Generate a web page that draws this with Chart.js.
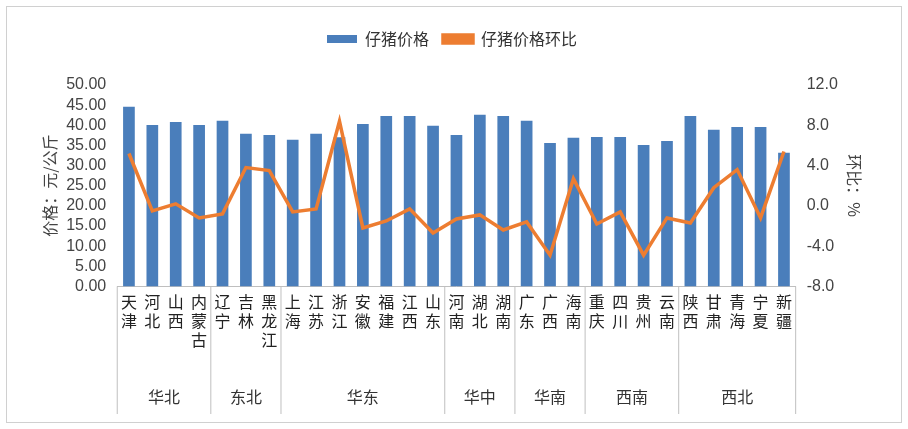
<!DOCTYPE html>
<html>
<head>
<meta charset="utf-8">
<script src="https://cdn.jsdelivr.net/npm/chart.js@4"></script>
<style>
  body { margin: 0; background: #fff; }
  #wrap { position: absolute; left: 6px; top: 6px; width: 894px; height: 415px; border: 1px solid #d0d0d0; }
</style>
</head>
<body>
<div id="wrap"><canvas id="c"></canvas></div>
<script>
const provinces = ["天津","河北","山西","内蒙古","辽宁","吉林","黑龙江","上海","江苏","浙江","安徽","福建","江西","山东","河南","湖北","湖南","广东","广西","海南","重庆","四川","贵州","云南","陕西","甘肃","青海","宁夏","新疆"];
const price = [44.6,40.1,40.8,40.1,41.1,37.9,37.6,36.4,37.9,37.0,40.3,42.3,42.3,39.9,37.6,42.6,42.3,41.1,35.6,36.9,37.1,37.1,35.1,36.1,42.3,38.9,39.6,39.6,33.2];
const change = [5.2,-0.5,0.2,-1.2,-0.8,3.8,3.5,-0.6,-0.3,8.4,-2.2,-1.5,-0.3,-2.7,-1.3,-0.9,-2.4,-1.6,-4.9,2.7,-1.8,-0.6,-4.9,-1.2,-1.7,1.8,3.6,-1.2,5.4];
const regions = ["华北","东北","华东","华中","华南","西南","西北"];
const regionSizes = [4,3,7,3,3,4,5];

// push the plot area down below the legend
const legendGap = {
  id: "legendGap",
  beforeInit(chart) {
    const fit = chart.legend.fit;
    chart.legend.fit = function () { fit.call(this); this.height += 28; };
  }
};

const groupPlugin = {
  id: "groups",
  afterDraw(chart) {
    const ctx = chart.ctx, x = chart.scales.x;
    const top = chart.chartArea.bottom, bottom = chart.height - 8;
    const half = (x.getPixelForValue(1) - x.getPixelForValue(0)) / 2;
    ctx.save();
    ctx.strokeStyle = "#bfbfbf";
    ctx.lineWidth = 1;
    ctx.fillStyle = "#333";
    ctx.font = "16px 'Noto Sans CJK SC'";
    ctx.textAlign = "center";
    ctx.textBaseline = "middle";
    let start = 0;
    const edge = (i) => x.getPixelForValue(i) - half;
    ctx.beginPath();
    ctx.moveTo(edge(0), top); ctx.lineTo(edge(0), bottom);
    regions.forEach((r, k) => {
      const end = start + regionSizes[k];
      const xr = edge(end);
      ctx.moveTo(xr, top); ctx.lineTo(xr, bottom);
      ctx.fillText(r, (edge(start) + xr) / 2, bottom - 17);
      start = end;
    });
    ctx.stroke();
    ctx.restore();
  }
};

new Chart(document.getElementById("c").getContext("2d"), {
  data: {
    labels: provinces.map((p) => p.split("")),
    datasets: [
      { type: "line", label: "仔猪价格环比", data: change, yAxisID: "y1", borderColor: "#ed7d31", backgroundColor: "#ed7d31", borderWidth: 3.5, pointRadius: 0, tension: 0, order: 0 },
      { type: "bar", label: "仔猪价格", data: price, yAxisID: "y", backgroundColor: "#4a7ebb", barPercentage: 0.5, categoryPercentage: 1, order: 1 },
    ],
  },
  options: {
    responsive: true,
    maintainAspectRatio: false,
    animation: false,
    layout: { padding: { top: 10, right: 33, left: 29, bottom: 66 } },
    plugins: {
      legend: {
        position: "top",
        reverse: true,
        labels: { font: { size: 16, family: "'Noto Sans CJK SC'" }, color: "#333", boxWidth: 30, boxHeight: 8, padding: 14 },
      },
    },
    scales: {
      x: {
        grid: { display: true, drawOnChartArea: false, color: "#bfbfbf", tickLength: 0 },
        border: { color: "#bfbfbf" },
        ticks: { maxRotation: 0, autoSkip: false, font: { size: 16, family: "'Noto Sans CJK SC'" }, color: "#222", padding: 6 },
      },
      y: {
        position: "left",
        min: 0, max: 50,
        grid: { display: false },
        border: { display: false },
        ticks: { stepSize: 5, autoSkip: false, callback: (v) => v.toFixed(2), font: { size: 16, family: "'Liberation Sans'" }, color: "#444" },
        title: { display: true, text: "价格：元/公斤", font: { size: 16, family: "'Noto Sans CJK SC'" }, color: "#444" },
      },
      y1: {
        position: "right",
        min: -8, max: 12,
        grid: { display: false },
        border: { display: false },
        ticks: { stepSize: 4, autoSkip: false, callback: (v) => v.toFixed(1), font: { size: 16, family: "'Liberation Sans'" }, color: "#444" },
        title: { display: true, text: "环比：%", font: { size: 16, family: "'Noto Sans CJK SC'" }, color: "#444" },
      },
    },
  },
  plugins: [legendGap, groupPlugin],
});
</script>
</body>
</html>
